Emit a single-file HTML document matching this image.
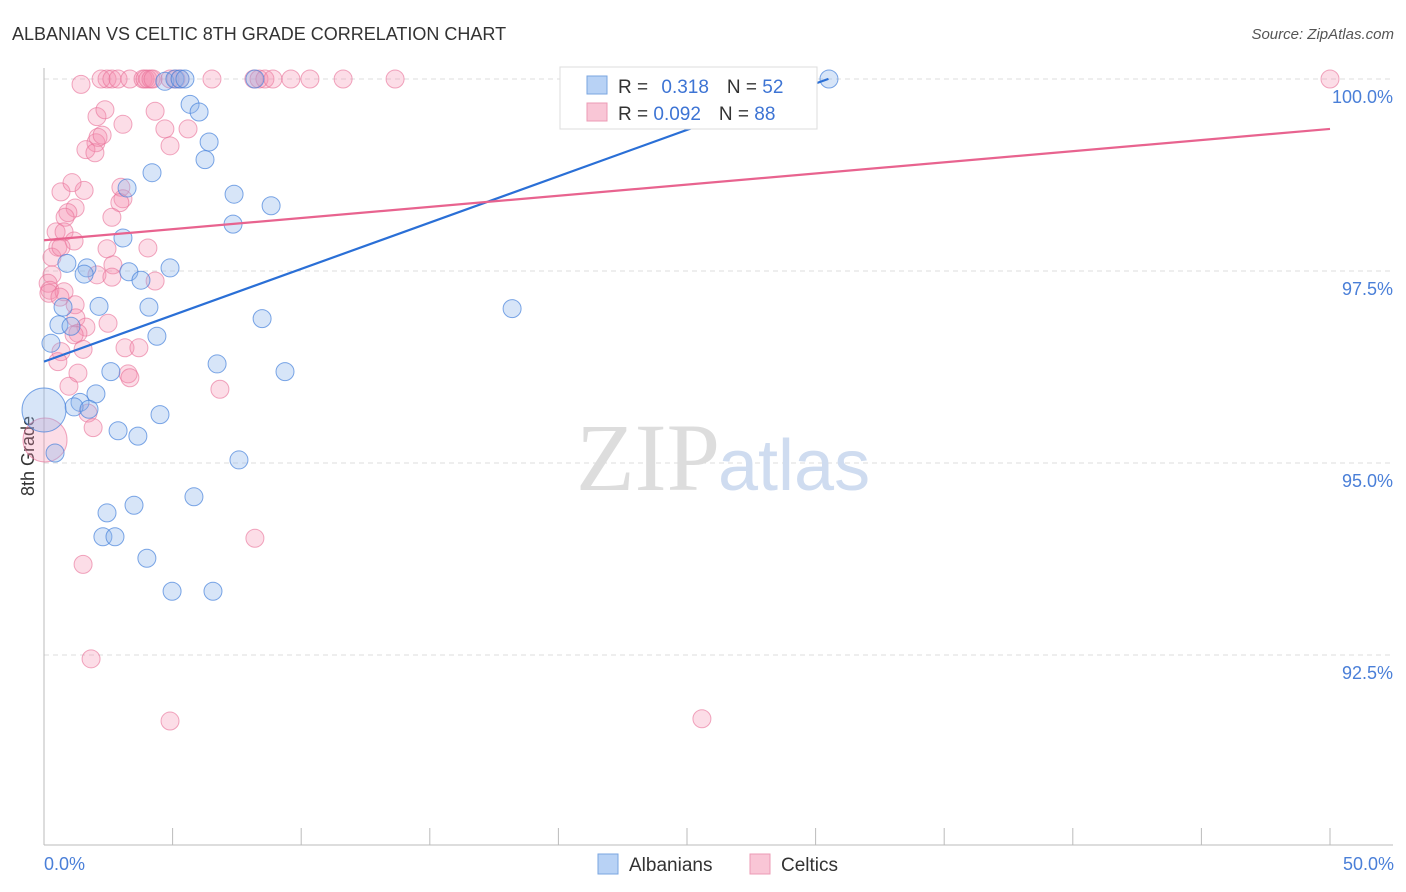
<!DOCTYPE html>
<html><head><meta charset="utf-8"><style>
body{margin:0;background:#fff;font-family:"Liberation Sans",sans-serif}
svg{display:block}
</style></head><body>
<svg id="chart" width="1406" height="892" viewBox="0 0 1406 892">
<text x="12" y="40" font-size="18" fill="#333">ALBANIAN VS CELTIC 8TH GRADE CORRELATION CHART</text>
<text x="1394" y="39" font-size="15" fill="#555" font-style="italic" text-anchor="end">Source: ZipAtlas.com</text>
<g id="grid"></g>
<text x="720" y="490" font-size="96" fill="#ddd" text-anchor="end" font-family="Liberation Serif,serif">ZIP</text>
<text x="718" y="490" font-size="72" fill="#cfdcf0">atlas</text>
<line x1="44" y1="68" x2="44" y2="845" stroke="#bbb"/>
<line x1="44" y1="845" x2="1393" y2="845" stroke="#bbb"/>
<text transform="translate(34,456) rotate(-90)" font-size="18" fill="#333" text-anchor="middle">8th Grade</text>
<text x="44" y="870" font-size="18" fill="#4a7fd8">0.0%</text>
<text x="1394" y="870" font-size="18" fill="#4a7fd8" text-anchor="end">50.0%</text>
<g id="marks"></g>
<g>
<rect x="560" y="67" width="257" height="62" fill="#fff" stroke="#ddd"/>
<rect x="587" y="76" width="20" height="18" fill="#b8d2f5" stroke="#7aa6e0"/>
<rect x="587" y="103" width="20" height="18" fill="#f9c6d6" stroke="#ec9bb5"/>
<text x="618" y="93" font-size="19" fill="#333">R = <tspan fill="#3d74d4" dx="8">0.318</tspan><tspan dx="18">N = </tspan><tspan fill="#3d74d4">52</tspan></text>
<text x="618" y="120" font-size="19" fill="#333">R = <tspan fill="#3d74d4">0.092</tspan><tspan dx="18">N = </tspan><tspan fill="#3d74d4">88</tspan></text>
</g>
<g>
<rect x="598" y="854" width="20" height="20" fill="#b8d2f5" stroke="#7aa6e0"/>
<text x="629" y="871" font-size="19" fill="#333">Albanians</text>
<rect x="750" y="854" width="20" height="20" fill="#f9c6d6" stroke="#ec9bb5"/>
<text x="781" y="871" font-size="19" fill="#333">Celtics</text>
</g>
</svg>
<script>
const yTicks=[100,97.5,95,92.5];
const yTickLabels=["100.0%","97.5%","95.0%","92.5%"];
const xTicks=[0,5,10,15,20,25,30,35,40,45,50];
const albX=[30.52,4.70,5.09,5.29,5.48,8.20,5.68,6.03,6.42,6.26,4.20,3.23,7.39,8.83,7.35,3.07,0.89,1.67,1.56,3.30,3.77,4.90,2.14,4.08,0.74,0.58,1.05,8.48,18.20,4.39,0.27,6.73,9.37,2.60,2.02,1.40,1.17,1.75,4.51,2.88,3.65,0.0,0.43,7.58,5.83,3.50,2.45,2.29,2.76,4.00,4.98,6.57];
const albY=[100,99.97,100,100,100,100,99.67,99.57,99.18,98.95,98.78,98.58,98.50,98.35,98.11,97.93,97.60,97.54,97.46,97.49,97.38,97.54,97.04,97.03,97.03,96.80,96.78,96.88,97.01,96.65,96.56,96.29,96.19,96.19,95.90,95.79,95.73,95.70,95.63,95.42,95.35,95.69,95.13,95.04,94.56,94.45,94.35,94.04,94.04,93.76,93.33,93.33];
const albBig=[41];
const celX=[2.45,2.22,2.64,2.88,3.34,3.85,3.93,4.04,4.16,4.24,4.90,5.13,5.29,6.53,8.16,8.36,8.59,8.90,9.60,10.34,11.63,13.65,50.0,1.44,2.06,2.37,4.70,4.32,5.60,3.07,2.02,2.10,2.26,1.63,1.98,4.90,2.99,0.66,1.56,1.09,3.07,2.95,1.21,0.93,0.82,2.64,0.47,0.78,0.54,1.17,4.04,2.45,0.31,0.66,2.68,2.06,0.31,2.64,4.32,0.16,0.23,0.19,0.78,0.62,1.21,1.24,2.49,1.63,1.32,1.17,3.15,3.69,1.52,0.66,0.54,3.27,1.32,3.34,0.97,6.84,1.71,1.91,0.04,8.20,1.52,1.83,4.90,25.58];
const celY=[100,100,100,100,100,100,100,100,100,100,100,100,100,100,100,100,100,100,100,100,100,100,100,99.93,99.51,99.60,99.35,99.58,99.35,99.41,99.17,99.24,99.27,99.08,99.04,99.13,98.59,98.53,98.55,98.65,98.44,98.39,98.32,98.26,98.20,98.20,98.01,98.01,97.81,97.89,97.80,97.79,97.68,97.81,97.58,97.45,97.45,97.42,97.37,97.34,97.25,97.21,97.23,97.16,97.06,96.89,96.82,96.77,96.69,96.67,96.50,96.50,96.48,96.45,96.32,96.16,96.17,96.11,96.00,95.96,95.65,95.46,95.30,94.02,93.68,92.45,91.64,91.67];
const celBig=[82];
const albTrend=[96.32,0.1207,30.5];
const celTrend=[97.90,0.029,50];
const NS="http://www.w3.org/2000/svg";
const X=v=>44+v*25.72;
const Y=v=>79+(100-v)*76.8;
function mk(t,a,p){const e=document.createElementNS(NS,t);for(const k in a)e.setAttribute(k,a[k]);p.appendChild(e);return e;}
const grid=document.getElementById('grid'),marks=document.getElementById('marks');
yTicks.forEach((t,i)=>{
 const l=mk('line',{x1:44,x2:1393,y1:Y(t),y2:Y(t),stroke:'#ddd','stroke-dasharray':'5,4'},grid);
 
 
 const tx=mk('text',{x:1393,y:Y(t)+24,'font-size':18,fill:'#4a7fd8','text-anchor':'end'},grid);
 tx.textContent=yTickLabels[i];
 
 
});
xTicks.forEach(t=>{
 const l=mk('line',{x1:X(t),x2:X(t),y1:828,y2:845,stroke:'#bbb'},grid);
 
 
});
celX.forEach((x,i)=>{
 const big=celBig.includes(i);
 const c=mk('circle',{cx:X(x),cy:Y(celY[i]),r:big?22:9,fill:'rgba(244,143,177,0.3)',stroke:'rgba(232,110,150,0.6)','stroke-width':1},marks);
 
 
});
albX.forEach((x,i)=>{
 const big=albBig.includes(i);
 const c=mk('circle',{cx:X(x),cy:Y(albY[i]),r:big?22:9,fill:'rgba(140,180,235,0.35)',stroke:'rgba(70,130,220,0.7)','stroke-width':1},marks);
 
 
});
[[albTrend,'#2a6fd6','albanians-trendline'],[celTrend,'#e8638f','celtics-trendline']].forEach(([t,col,n])=>{
 const l=mk('line',{x1:X(0),y1:Y(t[0]),x2:X(t[2]),y2:Y(t[0]+t[1]*t[2]),stroke:col,'stroke-width':2.2},marks);
 
 
});
</script>
</body></html>
